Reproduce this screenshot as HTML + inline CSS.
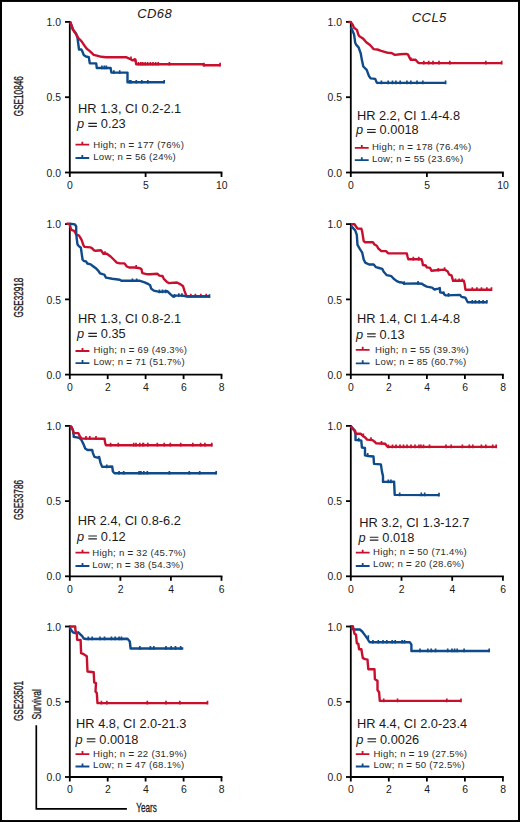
<!DOCTYPE html>
<html><head><meta charset="utf-8"><title>Survival curves</title>
<style>
html,body{margin:0;padding:0;background:#fff;}
body{width:520px;height:822px;overflow:hidden;}
svg text{font-family:"Liberation Sans",sans-serif;fill:#1a1a1a;}
</style></head><body>
<svg width="520" height="822" viewBox="0 0 520 822" style="display:block">
<rect x="0" y="0" width="520" height="822" fill="#fff"/>
<path d="M69.8 21.0V173.4M68.9 172.5H222.4" stroke="#000" stroke-width="1.8" fill="none"/>
<path d="M65.0 21.9H69.8" stroke="#000" stroke-width="1.8"/>
<path d="M65.0 97.2H69.8" stroke="#000" stroke-width="1.8"/>
<path d="M65.0 172.5H69.8" stroke="#000" stroke-width="1.8"/>
<text x="61.0" y="26.0" font-size="10.4" text-anchor="end">1.0</text>
<text x="61.0" y="101.3" font-size="10.4" text-anchor="end">0.5</text>
<text x="61.0" y="176.6" font-size="10.4" text-anchor="end">0.0</text>
<path d="M69.8 172.5V177.0" stroke="#000" stroke-width="1.8"/>
<text x="70.0" y="188.8" font-size="10.4" text-anchor="middle">0</text>
<path d="M145.6 172.5V177.0" stroke="#000" stroke-width="1.8"/>
<text x="145.8" y="188.8" font-size="10.4" text-anchor="middle">5</text>
<path d="M221.5 172.5V177.0" stroke="#000" stroke-width="1.8"/>
<text x="221.7" y="188.8" font-size="10.4" text-anchor="middle">10</text>
<path d="M69.8 22.2 L70.6 22.6 L72.9 29.5 L76.0 33.4 L77.5 38.0 L79.0 49.5 L81.4 49.5 L82.2 51.0 L83.7 54.9 L86.0 56.5 L88.8 57.2 L89.8 63.4 L96.2 63.4 L96.8 68.0 L110.6 68.0 L111.4 72.6 L127.5 72.6 L127.5 82.3 L164.2 82.3" stroke="#0f4a8a" stroke-width="2.4" fill="none" stroke-linejoin="round"/>
<path d="M101.9 65.6V69.3M104.3 65.6V69.3M106.3 65.6V69.3M113.9 70.2V73.9M119.7 70.2V73.9M129.6 79.9V83.6M130.8 79.9V83.6M136.3 79.9V83.6M141.8 79.9V83.6M147.8 79.9V83.6M164.2 79.9V83.6" stroke="#0f4a8a" stroke-width="1.7" fill="none"/>
<path d="M69.8 22.0 L70.4 22.3 L72.9 29.5 L76.0 34.2 L77.5 36.5 L78.3 38.0 L81.4 41.1 L84.5 45.7 L86.8 48.8 L89.8 51.1 L93.7 54.9 L96.8 55.7 L101.4 56.8 L106.0 57.2 L112.2 57.2 L126.0 57.2 L129.8 58.8 L132.2 60.3 L135.5 59.8 L136.2 64.3 L203.0 64.3 L203.5 65.2 L220.1 65.2" stroke="#c8102e" stroke-width="2.4" fill="none" stroke-linejoin="round"/>
<path d="M131.0 56.4V60.1M134.6 57.9V61.6M138.5 61.9V65.6M140.9 61.9V65.6M142.8 61.9V65.6M145.2 61.9V65.6M147.6 61.9V65.6M150.4 61.9V65.6M153.0 61.9V65.6M155.6 61.9V65.6M158.2 61.9V65.6M169.4 61.9V65.6M204.0 62.8V66.5M220.1 62.8V66.5" stroke="#c8102e" stroke-width="1.7" fill="none"/>
<text x="78.1" y="112.9" font-size="12.8">HR 1.3, CI 0.2-2.1</text>
<text x="77.1" y="128.3" font-size="12.8" font-style="italic">p</text>
<path d="M88.3 123.4h8.6M88.3 126.3h8.6" stroke="#222" stroke-width="1.15" fill="none"/>
<text x="100.8" y="128.3" font-size="12.8">0.23</text>
<path d="M75.5 144.7H89.2M82.3 141.7V144.7" stroke="#c8102e" stroke-width="1.8" fill="none"/>
<path d="M75.5 158.0H89.2M82.3 155.0V158.0" stroke="#0f4a8a" stroke-width="1.8" fill="none"/>
<text x="93.2" y="147.8" font-size="9.6" letter-spacing="0.28" style="fill:#2b2b2b">High; n <tspan font-weight="bold">=</tspan> 177 (76%)</text>
<text x="93.2" y="160.2" font-size="9.6" letter-spacing="0.28" style="fill:#2b2b2b">Low; n <tspan font-weight="bold">=</tspan> 56 (24%)</text>
<path d="M350.8 21.0V173.4M349.9 172.5H503.8" stroke="#000" stroke-width="1.8" fill="none"/>
<path d="M346.0 21.9H350.8" stroke="#000" stroke-width="1.8"/>
<path d="M346.0 97.2H350.8" stroke="#000" stroke-width="1.8"/>
<path d="M346.0 172.5H350.8" stroke="#000" stroke-width="1.8"/>
<text x="342.0" y="26.0" font-size="10.4" text-anchor="end">1.0</text>
<text x="342.0" y="101.3" font-size="10.4" text-anchor="end">0.5</text>
<text x="342.0" y="176.6" font-size="10.4" text-anchor="end">0.0</text>
<path d="M350.8 172.5V177.0" stroke="#000" stroke-width="1.8"/>
<text x="351.0" y="188.8" font-size="10.4" text-anchor="middle">0</text>
<path d="M426.9 172.5V177.0" stroke="#000" stroke-width="1.8"/>
<text x="427.1" y="188.8" font-size="10.4" text-anchor="middle">5</text>
<path d="M502.9 172.5V177.0" stroke="#000" stroke-width="1.8"/>
<text x="503.1" y="188.8" font-size="10.4" text-anchor="middle">10</text>
<path d="M350.8 27.0 L351.4 28.2 L354.0 34.2 L355.2 42.7 L356.5 45.2 L358.6 47.4 L360.8 53.7 L362.0 60.6 L363.3 66.5 L366.7 69.9 L368.9 75.9 L370.6 78.4 L375.2 78.9 L376.9 82.9 L445.6 82.9" stroke="#0f4a8a" stroke-width="2.4" fill="none" stroke-linejoin="round"/>
<path d="M381.4 80.5V84.2M388.2 80.5V84.2M392.5 80.5V84.2M395.9 80.5V84.2M400.2 80.5V84.2M406.9 80.5V84.2M410.8 80.5V84.2M417.0 80.5V84.2M422.8 80.5V84.2M445.6 80.5V84.2" stroke="#0f4a8a" stroke-width="1.7" fill="none"/>
<path d="M348.5 22.0 L350.6 21.9 L352.7 24.8 L354.0 27.8 L356.9 29.9 L358.2 34.2 L359.1 35.9 L362.9 38.4 L366.3 42.3 L369.3 44.4 L371.4 46.5 L373.5 49.1 L377.4 49.5 L381.2 50.8 L388.0 52.9 L391.5 53.0 L394.9 54.9 L400.2 54.2 L406.0 53.9 L407.9 54.4 L409.8 58.3 L410.8 59.7 L415.6 59.7 L418.0 62.6 L419.4 63.1 L501.7 63.1" stroke="#c8102e" stroke-width="2.4" fill="none" stroke-linejoin="round"/>
<path d="M410.8 57.3V61.0M423.8 60.7V64.4M428.7 60.7V64.4M433.0 60.7V64.4M439.0 60.7V64.4M449.8 60.7V64.4M485.8 60.7V64.4M501.7 60.7V64.4" stroke="#c8102e" stroke-width="1.7" fill="none"/>
<text x="356.9" y="119.8" font-size="12.8">HR 2.2, CI 1.4-4.8</text>
<text x="355.9" y="134.4" font-size="12.8" font-style="italic">p</text>
<path d="M367.1 129.5h8.6M367.1 132.4h8.6" stroke="#222" stroke-width="1.15" fill="none"/>
<text x="379.6" y="134.4" font-size="12.8">0.0018</text>
<path d="M354.8 147.9H368.7M361.8 144.9V147.9" stroke="#c8102e" stroke-width="1.8" fill="none"/>
<path d="M354.8 160.2H368.7M361.8 157.2V160.2" stroke="#0f4a8a" stroke-width="1.8" fill="none"/>
<text x="371.9" y="150.0" font-size="9.6" letter-spacing="0.28" style="fill:#2b2b2b">High; n <tspan font-weight="bold">=</tspan> 178 (76.4%)</text>
<text x="371.9" y="162.1" font-size="9.6" letter-spacing="0.28" style="fill:#2b2b2b">Low; n <tspan font-weight="bold">=</tspan> 55 (23.6%)</text>
<path d="M69.8 223.2V375.5M68.9 374.6H222.4" stroke="#000" stroke-width="1.8" fill="none"/>
<path d="M65.0 224.1H69.8" stroke="#000" stroke-width="1.8"/>
<path d="M65.0 299.4H69.8" stroke="#000" stroke-width="1.8"/>
<path d="M65.0 374.6H69.8" stroke="#000" stroke-width="1.8"/>
<text x="61.0" y="228.2" font-size="10.4" text-anchor="end">1.0</text>
<text x="61.0" y="303.5" font-size="10.4" text-anchor="end">0.5</text>
<text x="61.0" y="378.7" font-size="10.4" text-anchor="end">0.0</text>
<path d="M69.8 374.6V379.1" stroke="#000" stroke-width="1.8"/>
<text x="70.0" y="390.9" font-size="10.4" text-anchor="middle">0</text>
<path d="M107.7 374.6V379.1" stroke="#000" stroke-width="1.8"/>
<text x="107.9" y="390.9" font-size="10.4" text-anchor="middle">2</text>
<path d="M145.6 374.6V379.1" stroke="#000" stroke-width="1.8"/>
<text x="145.8" y="390.9" font-size="10.4" text-anchor="middle">4</text>
<path d="M183.6 374.6V379.1" stroke="#000" stroke-width="1.8"/>
<text x="183.8" y="390.9" font-size="10.4" text-anchor="middle">6</text>
<path d="M221.5 374.6V379.1" stroke="#000" stroke-width="1.8"/>
<text x="221.7" y="390.9" font-size="10.4" text-anchor="middle">8</text>
<path d="M66.5 223.8 L69.6 223.6 L70.7 228.2 L71.5 229.9 L74.1 230.8 L75.4 232.9 L76.2 234.6 L78.8 235.4 L80.0 237.1 L81.7 240.1 L83.4 245.2 L84.7 246.9 L90.7 247.4 L92.4 248.6 L94.1 250.3 L95.8 250.8 L100.9 250.3 L102.2 252.0 L103.4 253.7 L106.0 253.5 L107.5 254.2 L110.6 256.5 L113.7 259.5 L116.8 262.6 L119.8 263.4 L124.5 263.4 L126.8 266.5 L129.1 267.5 L135.2 267.5 L140.0 268.2 L141.5 269.2 L142.3 273.1 L147.7 274.3 L150.0 274.3 L157.5 273.8 L159.4 275.6 L162.5 276.0 L163.8 278.8 L166.9 281.9 L168.8 283.1 L176.9 282.5 L180.6 284.4 L183.1 286.3 L184.4 290.6 L185.6 293.8 L186.3 296.2 L209.2 296.2" stroke="#c8102e" stroke-width="2.4" fill="none" stroke-linejoin="round"/>
<path d="M105.0 251.3V255.0M136.2 265.1V268.8M190.8 293.8V297.5M195.4 293.8V297.5M200.8 293.8V297.5M206.2 293.8V297.5" stroke="#c8102e" stroke-width="1.7" fill="none"/>
<path d="M69.8 223.8 L74.9 224.4 L76.2 226.5 L76.2 232.5 L76.6 237.6 L77.5 244.4 L78.8 246.1 L80.9 247.8 L81.7 253.7 L82.6 259.7 L83.9 261.0 L86.0 261.4 L87.3 263.5 L90.7 264.4 L92.4 265.7 L95.8 268.2 L97.9 270.3 L100.0 273.3 L102.6 274.2 L104.3 274.6 L106.0 277.6 L112.2 278.8 L119.8 279.8 L121.4 280.8 L130.6 280.8 L140.0 280.8 L144.6 282.3 L148.5 284.2 L150.0 285.0 L151.3 288.8 L153.8 290.6 L159.4 291.9 L167.5 291.3 L170.6 294.4 L173.1 296.5 L175.6 295.6 L182.5 295.6 L187.5 296.6 L209.5 296.6" stroke="#0f4a8a" stroke-width="2.4" fill="none" stroke-linejoin="round"/>
<path d="M132.4 278.4V282.1M136.7 278.4V282.1M159.4 289.5V293.2M162.5 289.5V293.2M165.6 289.5V293.2M174.4 294.1V297.8M178.8 293.2V296.9M181.9 293.2V296.9M209.5 294.2V297.9" stroke="#0f4a8a" stroke-width="1.7" fill="none"/>
<text x="78.1" y="323.3" font-size="12.8">HR 1.3, CI 0.8-2.1</text>
<text x="77.1" y="338.3" font-size="12.8" font-style="italic">p</text>
<path d="M88.3 333.4h8.6M88.3 336.3h8.6" stroke="#222" stroke-width="1.15" fill="none"/>
<text x="100.8" y="338.3" font-size="12.8">0.35</text>
<path d="M75.5 351.0H89.4M82.5 348.0V351.0" stroke="#c8102e" stroke-width="1.8" fill="none"/>
<path d="M75.5 363.1H89.4M82.5 360.1V363.1" stroke="#0f4a8a" stroke-width="1.8" fill="none"/>
<text x="93.4" y="352.9" font-size="9.6" letter-spacing="0.28" style="fill:#2b2b2b">High; n <tspan font-weight="bold">=</tspan> 69 (49.3%)</text>
<text x="93.4" y="365.2" font-size="9.6" letter-spacing="0.28" style="fill:#2b2b2b">Low; n <tspan font-weight="bold">=</tspan> 71 (51.7%)</text>
<path d="M350.8 223.2V375.5M349.9 374.6H503.8" stroke="#000" stroke-width="1.8" fill="none"/>
<path d="M346.0 224.1H350.8" stroke="#000" stroke-width="1.8"/>
<path d="M346.0 299.4H350.8" stroke="#000" stroke-width="1.8"/>
<path d="M346.0 374.6H350.8" stroke="#000" stroke-width="1.8"/>
<text x="342.0" y="228.2" font-size="10.4" text-anchor="end">1.0</text>
<text x="342.0" y="303.5" font-size="10.4" text-anchor="end">0.5</text>
<text x="342.0" y="378.7" font-size="10.4" text-anchor="end">0.0</text>
<path d="M350.8 374.6V379.1" stroke="#000" stroke-width="1.8"/>
<text x="351.0" y="390.9" font-size="10.4" text-anchor="middle">0</text>
<path d="M388.8 374.6V379.1" stroke="#000" stroke-width="1.8"/>
<text x="389.0" y="390.9" font-size="10.4" text-anchor="middle">2</text>
<path d="M426.9 374.6V379.1" stroke="#000" stroke-width="1.8"/>
<text x="427.1" y="390.9" font-size="10.4" text-anchor="middle">4</text>
<path d="M464.9 374.6V379.1" stroke="#000" stroke-width="1.8"/>
<text x="465.1" y="390.9" font-size="10.4" text-anchor="middle">6</text>
<path d="M502.9 374.6V379.1" stroke="#000" stroke-width="1.8"/>
<text x="503.1" y="390.9" font-size="10.4" text-anchor="middle">8</text>
<path d="M350.8 225.7 L355.2 230.3 L356.8 234.9 L357.5 244.9 L359.8 248.8 L362.2 252.6 L363.7 259.5 L365.2 262.6 L369.1 264.5 L373.7 264.5 L376.0 267.2 L379.1 268.0 L382.2 268.8 L383.7 271.8 L386.8 275.2 L391.4 276.2 L393.7 278.8 L396.8 281.1 L399.8 282.3 L402.0 282.5 L404.2 283.6 L418.1 283.5 L422.0 283.8 L423.9 285.2 L426.8 286.6 L432.1 287.6 L434.5 289.5 L438.3 288.6 L439.8 288.1 L440.2 292.4 L442.2 292.9 L443.6 292.4 L444.1 294.3 L445.5 295.3 L446.9 295.4 L460.0 294.9 L461.5 296.9 L465.4 297.7 L467.7 302.3 L486.9 302.3" stroke="#0f4a8a" stroke-width="2.4" fill="none" stroke-linejoin="round"/>
<path d="M404.2 281.2V284.9M418.1 281.1V284.8M448.5 293.0V296.7M472.3 299.9V303.6M475.4 299.9V303.6M479.2 299.9V303.6M483.1 299.9V303.6M486.9 299.9V303.6" stroke="#0f4a8a" stroke-width="1.7" fill="none"/>
<path d="M350.8 224.2 L354.5 224.2 L356.0 226.5 L357.5 228.5 L361.4 228.8 L362.2 231.8 L363.7 241.1 L365.2 242.3 L372.9 242.3 L374.5 244.5 L376.8 245.7 L378.3 248.5 L381.4 251.1 L386.0 251.1 L388.3 253.4 L406.8 253.4 L407.5 256.5 L408.3 259.2 L421.5 259.2 L422.4 262.0 L422.9 265.0 L425.8 265.5 L426.8 267.4 L430.1 267.9 L431.5 270.8 L436.4 270.3 L444.6 269.6 L447.7 271.5 L449.2 274.6 L451.5 275.4 L453.1 280.8 L463.8 280.8 L464.6 283.8 L465.4 289.7 L491.5 289.7" stroke="#c8102e" stroke-width="2.4" fill="none" stroke-linejoin="round"/>
<path d="M413.3 256.8V260.5M418.8 256.8V260.5M438.3 267.9V271.6M444.6 267.2V270.9M455.4 278.4V282.1M459.2 278.4V282.1M462.3 278.4V282.1M472.3 287.3V291.0M476.9 287.3V291.0M481.5 287.3V291.0M486.9 287.3V291.0M491.5 287.3V291.0" stroke="#c8102e" stroke-width="1.7" fill="none"/>
<text x="356.9" y="323.2" font-size="12.8">HR 1.4, CI 1.4-4.8</text>
<text x="355.9" y="338.7" font-size="12.8" font-style="italic">p</text>
<path d="M367.1 333.8h8.6M367.1 336.7h8.6" stroke="#222" stroke-width="1.15" fill="none"/>
<text x="379.6" y="338.7" font-size="12.8">0.13</text>
<path d="M355.8 349.8H369.6M362.7 346.8V349.8" stroke="#c8102e" stroke-width="1.8" fill="none"/>
<path d="M355.8 363.3H369.6M362.7 360.3V363.3" stroke="#0f4a8a" stroke-width="1.8" fill="none"/>
<text x="375.0" y="352.5" font-size="9.6" letter-spacing="0.28" style="fill:#2b2b2b">High; n <tspan font-weight="bold">=</tspan> 55 (39.3%)</text>
<text x="375.0" y="365.0" font-size="9.6" letter-spacing="0.28" style="fill:#2b2b2b">Low; n <tspan font-weight="bold">=</tspan> 85 (60.7%)</text>
<path d="M69.8 425.0V577.2M68.9 576.3H222.4" stroke="#000" stroke-width="1.8" fill="none"/>
<path d="M65.0 425.9H69.8" stroke="#000" stroke-width="1.8"/>
<path d="M65.0 501.1H69.8" stroke="#000" stroke-width="1.8"/>
<path d="M65.0 576.3H69.8" stroke="#000" stroke-width="1.8"/>
<text x="61.0" y="430.0" font-size="10.4" text-anchor="end">1.0</text>
<text x="61.0" y="505.2" font-size="10.4" text-anchor="end">0.5</text>
<text x="61.0" y="580.4" font-size="10.4" text-anchor="end">0.0</text>
<path d="M69.8 576.3V580.8" stroke="#000" stroke-width="1.8"/>
<text x="70.0" y="592.6" font-size="10.4" text-anchor="middle">0</text>
<path d="M120.4 576.3V580.8" stroke="#000" stroke-width="1.8"/>
<text x="120.6" y="592.6" font-size="10.4" text-anchor="middle">2</text>
<path d="M170.9 576.3V580.8" stroke="#000" stroke-width="1.8"/>
<text x="171.1" y="592.6" font-size="10.4" text-anchor="middle">4</text>
<path d="M221.5 576.3V580.8" stroke="#000" stroke-width="1.8"/>
<text x="221.7" y="592.6" font-size="10.4" text-anchor="middle">6</text>
<path d="M69.8 426.0 L71.4 426.9 L72.9 430.0 L73.7 435.4 L73.7 436.9 L79.1 437.7 L81.4 440.0 L83.7 444.6 L85.2 448.5 L87.5 450.0 L92.2 450.0 L92.9 453.1 L94.5 456.9 L97.5 457.7 L99.1 456.9 L100.6 463.1 L102.2 466.9 L112.2 466.5 L112.9 471.5 L114.5 473.3 L216.2 473.3" stroke="#0f4a8a" stroke-width="2.4" fill="none" stroke-linejoin="round"/>
<path d="M106.8 464.5V468.2M119.1 470.9V474.6M123.7 470.9V474.6M139.1 470.9V474.6M140.9 470.9V474.6M143.8 470.9V474.6M147.3 470.9V474.6M169.4 470.9V474.6M189.3 470.9V474.6M199.7 470.9V474.6M216.2 470.9V474.6" stroke="#0f4a8a" stroke-width="1.7" fill="none"/>
<path d="M69.8 426.0 L71.4 426.9 L72.9 430.0 L73.7 433.1 L78.3 433.1 L79.8 436.2 L81.4 438.5 L104.5 438.8 L105.2 443.1 L106.0 445.2 L212.3 445.2" stroke="#c8102e" stroke-width="2.4" fill="none" stroke-linejoin="round"/>
<path d="M86.0 436.1V439.8M89.8 436.1V439.8M96.0 436.1V439.8M110.6 442.8V446.5M118.3 442.8V446.5M133.7 442.8V446.5M136.0 442.8V446.5M139.8 442.8V446.5M142.9 442.8V446.5M143.5 442.8V446.5M147.8 442.8V446.5M157.3 442.8V446.5M164.2 442.8V446.5M170.3 442.8V446.5M180.7 442.8V446.5M192.8 442.8V446.5M200.6 442.8V446.5M204.9 442.8V446.5M211.8 442.8V446.5" stroke="#c8102e" stroke-width="1.7" fill="none"/>
<text x="77.7" y="525.0" font-size="12.8">HR 2.4, CI 0.8-6.2</text>
<text x="77.1" y="540.9" font-size="12.8" font-style="italic">p</text>
<path d="M88.3 536.0h8.6M88.3 538.9h8.6" stroke="#222" stroke-width="1.15" fill="none"/>
<text x="100.8" y="540.9" font-size="12.8">0.12</text>
<path d="M75.5 552.7H89.4M82.5 549.7V552.7" stroke="#c8102e" stroke-width="1.8" fill="none"/>
<path d="M75.5 566.0H89.4M82.5 563.0V566.0" stroke="#0f4a8a" stroke-width="1.8" fill="none"/>
<text x="92.2" y="556.2" font-size="9.6" letter-spacing="0.28" style="fill:#2b2b2b">High; n <tspan font-weight="bold">=</tspan> 32 (45.7%)</text>
<text x="92.2" y="568.3" font-size="9.6" letter-spacing="0.28" style="fill:#2b2b2b">Low; n <tspan font-weight="bold">=</tspan> 38 (54.3%)</text>
<path d="M350.8 425.0V577.2M349.9 576.3H503.8" stroke="#000" stroke-width="1.8" fill="none"/>
<path d="M346.0 425.9H350.8" stroke="#000" stroke-width="1.8"/>
<path d="M346.0 501.1H350.8" stroke="#000" stroke-width="1.8"/>
<path d="M346.0 576.3H350.8" stroke="#000" stroke-width="1.8"/>
<text x="342.0" y="430.0" font-size="10.4" text-anchor="end">1.0</text>
<text x="342.0" y="505.2" font-size="10.4" text-anchor="end">0.5</text>
<text x="342.0" y="580.4" font-size="10.4" text-anchor="end">0.0</text>
<path d="M350.8 576.3V580.8" stroke="#000" stroke-width="1.8"/>
<text x="351.0" y="592.6" font-size="10.4" text-anchor="middle">0</text>
<path d="M401.5 576.3V580.8" stroke="#000" stroke-width="1.8"/>
<text x="401.7" y="592.6" font-size="10.4" text-anchor="middle">2</text>
<path d="M452.2 576.3V580.8" stroke="#000" stroke-width="1.8"/>
<text x="452.4" y="592.6" font-size="10.4" text-anchor="middle">4</text>
<path d="M502.9 576.3V580.8" stroke="#000" stroke-width="1.8"/>
<text x="503.1" y="592.6" font-size="10.4" text-anchor="middle">6</text>
<path d="M350.8 426.1 L352.5 428.0 L354.5 430.6 L355.5 433.8 L355.5 440.1 L359.2 440.1 L361.3 440.6 L361.9 447.5 L365.0 448.0 L365.0 455.4 L368.2 456.0 L373.5 456.5 L374.0 463.9 L380.9 464.4 L382.0 471.9 L383.0 476.1 L383.0 481.9 L394.1 481.6 L394.7 494.9 L439.0 495.1" stroke="#0f4a8a" stroke-width="2.4" fill="none" stroke-linejoin="round"/>
<path d="M358.7 437.7V441.4M367.7 453.0V456.7M388.3 479.5V483.2M390.9 479.5V483.2M399.7 492.5V496.2M421.3 492.5V496.2M424.7 492.5V496.2M439.0 492.7V496.4" stroke="#0f4a8a" stroke-width="1.7" fill="none"/>
<path d="M350.8 426.1 L352.3 428.5 L355.0 430.6 L356.0 433.8 L360.8 433.8 L362.9 435.9 L364.5 436.9 L367.2 439.6 L372.5 440.1 L374.6 441.7 L376.2 443.3 L385.2 443.8 L386.7 445.9 L387.8 446.9 L497.0 446.9" stroke="#c8102e" stroke-width="2.4" fill="none" stroke-linejoin="round"/>
<path d="M363.3 433.5V437.2M371.0 437.2V440.9M381.5 440.9V444.6M388.4 444.5V448.2M392.5 444.5V448.2M396.0 444.5V448.2M400.0 444.5V448.2M403.5 444.5V448.2M407.0 444.5V448.2M411.0 444.5V448.2M415.0 444.5V448.2M419.0 444.5V448.2M420.9 444.5V448.2M423.5 444.5V448.2M429.5 444.5V448.2M446.0 444.5V448.2M451.2 444.5V448.2M462.4 444.5V448.2M469.3 444.5V448.2M472.8 444.5V448.2M481.4 444.5V448.2M485.8 444.5V448.2M492.7 444.5V448.2M496.2 444.5V448.2" stroke="#c8102e" stroke-width="1.7" fill="none"/>
<text x="359.2" y="526.7" font-size="12.8">HR 3.2, CI 1.3-12.7</text>
<text x="358.6" y="542.1" font-size="12.8" font-style="italic">p</text>
<path d="M369.8 537.2h8.6M369.8 540.1h8.6" stroke="#222" stroke-width="1.15" fill="none"/>
<text x="382.3" y="542.1" font-size="12.8">0.018</text>
<path d="M355.8 552.7H369.6M362.7 549.7V552.7" stroke="#c8102e" stroke-width="1.8" fill="none"/>
<path d="M355.8 566.0H369.6M362.7 563.0V566.0" stroke="#0f4a8a" stroke-width="1.8" fill="none"/>
<text x="373.1" y="554.8" font-size="9.6" letter-spacing="0.28" style="fill:#2b2b2b">High; n <tspan font-weight="bold">=</tspan> 50 (71.4%)</text>
<text x="373.1" y="567.3" font-size="9.6" letter-spacing="0.28" style="fill:#2b2b2b">Low; n <tspan font-weight="bold">=</tspan> 20 (28.6%)</text>
<path d="M69.8 625.6V777.9M68.9 777.0H222.4" stroke="#000" stroke-width="1.8" fill="none"/>
<path d="M65.0 626.5H69.8" stroke="#000" stroke-width="1.8"/>
<path d="M65.0 701.8H69.8" stroke="#000" stroke-width="1.8"/>
<path d="M65.0 777.0H69.8" stroke="#000" stroke-width="1.8"/>
<text x="61.0" y="630.6" font-size="10.4" text-anchor="end">1.0</text>
<text x="61.0" y="705.9" font-size="10.4" text-anchor="end">0.5</text>
<text x="61.0" y="781.1" font-size="10.4" text-anchor="end">0.0</text>
<path d="M69.8 777.0V781.5" stroke="#000" stroke-width="1.8"/>
<text x="70.0" y="793.3" font-size="10.4" text-anchor="middle">0</text>
<path d="M107.7 777.0V781.5" stroke="#000" stroke-width="1.8"/>
<text x="107.9" y="793.3" font-size="10.4" text-anchor="middle">2</text>
<path d="M145.6 777.0V781.5" stroke="#000" stroke-width="1.8"/>
<text x="145.8" y="793.3" font-size="10.4" text-anchor="middle">4</text>
<path d="M183.6 777.0V781.5" stroke="#000" stroke-width="1.8"/>
<text x="183.8" y="793.3" font-size="10.4" text-anchor="middle">6</text>
<path d="M221.5 777.0V781.5" stroke="#000" stroke-width="1.8"/>
<text x="221.7" y="793.3" font-size="10.4" text-anchor="middle">8</text>
<path d="M69.8 626.5 L70.6 629.2 L72.9 632.3 L75.2 633.1 L78.3 632.3 L80.6 634.6 L82.2 636.2 L83.7 638.5 L86.0 639.0 L127.5 638.8 L129.8 641.5 L130.6 648.5 L183.3 648.5" stroke="#0f4a8a" stroke-width="2.4" fill="none" stroke-linejoin="round"/>
<path d="M88.3 636.6V640.3M92.2 636.6V640.3M100.0 636.6V640.3M104.5 636.6V640.3M111.4 636.6V640.3M115.2 636.6V640.3M119.1 636.6V640.3M121.4 636.6V640.3M139.8 646.1V649.8M150.4 646.1V649.8M153.8 646.1V649.8M166.0 646.1V649.8M171.2 646.1V649.8M175.5 646.1V649.8M180.7 646.1V649.8" stroke="#0f4a8a" stroke-width="1.7" fill="none"/>
<path d="M69.8 626.5 L75.2 626.5 L75.5 630.8 L76.8 633.1 L77.1 639.7 L80.6 640.0 L81.1 653.1 L83.7 654.2 L86.8 656.2 L87.5 671.5 L93.7 672.3 L94.2 682.3 L96.0 683.1 L95.5 691.5 L96.8 693.1 L97.5 703.1 L207.8 703.1" stroke="#c8102e" stroke-width="2.4" fill="none" stroke-linejoin="round"/>
<path d="M101.4 700.7V704.4M106.8 700.7V704.4M147.3 700.7V704.4M166.0 700.7V704.4M179.8 700.7V704.4M207.5 700.7V704.4" stroke="#c8102e" stroke-width="1.7" fill="none"/>
<text x="76.1" y="727.9" font-size="12.8">HR 4.8, CI 2.0-21.3</text>
<text x="75.6" y="743.7" font-size="12.8" font-style="italic">p</text>
<path d="M86.8 738.8h8.6M86.8 741.7h8.6" stroke="#222" stroke-width="1.15" fill="none"/>
<text x="99.3" y="743.7" font-size="12.8">0.0018</text>
<path d="M75.5 754.1H89.4M82.5 751.1V754.1" stroke="#c8102e" stroke-width="1.8" fill="none"/>
<path d="M75.5 766.5H89.4M82.5 763.5V766.5" stroke="#0f4a8a" stroke-width="1.8" fill="none"/>
<text x="93.1" y="756.7" font-size="9.6" letter-spacing="0.28" style="fill:#2b2b2b">High; n <tspan font-weight="bold">=</tspan> 22 (31.9%)</text>
<text x="93.1" y="768.3" font-size="9.6" letter-spacing="0.28" style="fill:#2b2b2b">Low; n <tspan font-weight="bold">=</tspan> 47 (68.1%)</text>
<path d="M350.8 625.6V777.9M349.9 777.0H503.8" stroke="#000" stroke-width="1.8" fill="none"/>
<path d="M346.0 626.5H350.8" stroke="#000" stroke-width="1.8"/>
<path d="M346.0 701.8H350.8" stroke="#000" stroke-width="1.8"/>
<path d="M346.0 777.0H350.8" stroke="#000" stroke-width="1.8"/>
<text x="342.0" y="630.6" font-size="10.4" text-anchor="end">1.0</text>
<text x="342.0" y="705.9" font-size="10.4" text-anchor="end">0.5</text>
<text x="342.0" y="781.1" font-size="10.4" text-anchor="end">0.0</text>
<path d="M350.8 777.0V781.5" stroke="#000" stroke-width="1.8"/>
<text x="351.0" y="793.3" font-size="10.4" text-anchor="middle">0</text>
<path d="M388.8 777.0V781.5" stroke="#000" stroke-width="1.8"/>
<text x="389.0" y="793.3" font-size="10.4" text-anchor="middle">2</text>
<path d="M426.9 777.0V781.5" stroke="#000" stroke-width="1.8"/>
<text x="427.1" y="793.3" font-size="10.4" text-anchor="middle">4</text>
<path d="M464.9 777.0V781.5" stroke="#000" stroke-width="1.8"/>
<text x="465.1" y="793.3" font-size="10.4" text-anchor="middle">6</text>
<path d="M502.9 777.0V781.5" stroke="#000" stroke-width="1.8"/>
<text x="503.1" y="793.3" font-size="10.4" text-anchor="middle">8</text>
<path d="M350.8 627.7 L353.7 629.5 L359.8 629.5 L362.2 631.5 L364.5 634.6 L366.8 637.7 L369.1 641.5 L369.8 642.3 L409.8 642.2 L411.4 644.6 L411.4 651.0 L489.2 651.0" stroke="#0f4a8a" stroke-width="2.4" fill="none" stroke-linejoin="round"/>
<path d="M368.3 635.3V639.0M372.9 639.9V643.6M378.3 639.9V643.6M383.0 639.9V643.6M386.8 639.9V643.6M392.2 639.9V643.6M395.2 639.9V643.6M402.1 639.9V643.6M404.5 639.9V643.6M420.0 648.6V652.3M427.8 648.6V652.3M431.2 648.6V652.3M435.6 648.6V652.3M447.7 648.6V652.3M452.0 648.6V652.3M454.6 648.6V652.3M457.2 648.6V652.3M464.1 648.6V652.3M489.2 648.6V652.3" stroke="#0f4a8a" stroke-width="1.7" fill="none"/>
<path d="M350.8 626.2 L352.9 626.2 L353.7 630.0 L354.5 633.8 L356.0 634.6 L356.8 643.1 L358.3 643.8 L359.1 649.2 L361.4 649.2 L362.2 654.6 L362.9 658.2 L365.2 659.2 L367.5 659.7 L368.3 669.2 L374.5 669.2 L374.9 679.2 L377.5 680.8 L377.5 690.0 L379.1 692.3 L379.8 700.9 L461.0 700.9" stroke="#c8102e" stroke-width="2.4" fill="none" stroke-linejoin="round"/>
<path d="M383.7 698.5V702.2M397.5 698.5V702.2M446.8 698.5V702.2M461.0 698.5V702.2" stroke="#c8102e" stroke-width="1.7" fill="none"/>
<text x="356.9" y="727.9" font-size="12.8">HR 4.4, CI 2.0-23.4</text>
<text x="356.3" y="743.7" font-size="12.8" font-style="italic">p</text>
<path d="M367.5 738.8h8.6M367.5 741.7h8.6" stroke="#222" stroke-width="1.15" fill="none"/>
<text x="380.0" y="743.7" font-size="12.8">0.0026</text>
<path d="M355.8 754.1H369.4M362.6 751.1V754.1" stroke="#c8102e" stroke-width="1.8" fill="none"/>
<path d="M355.8 766.5H369.4M362.6 763.5V766.5" stroke="#0f4a8a" stroke-width="1.8" fill="none"/>
<text x="373.4" y="756.7" font-size="9.6" letter-spacing="0.28" style="fill:#2b2b2b">High; n <tspan font-weight="bold">=</tspan> 19 (27.5%)</text>
<text x="373.4" y="768.3" font-size="9.6" letter-spacing="0.28" style="fill:#2b2b2b">Low; n <tspan font-weight="bold">=</tspan> 50 (72.5%)</text>
<text x="154.7" y="17.7" font-size="13" letter-spacing="0.45" font-style="italic" text-anchor="middle">CD68</text>
<text x="429.3" y="21.9" font-size="13" letter-spacing="0.45" font-style="italic" text-anchor="middle">CCL5</text>
<text transform="translate(23.2 96.2) rotate(-90) scale(0.63 1)" font-size="13" text-anchor="middle" stroke="#1a1a1a" stroke-width="0.35">GSE10846</text>
<text transform="translate(23.2 297.6) rotate(-90) scale(0.63 1)" font-size="13" text-anchor="middle" stroke="#1a1a1a" stroke-width="0.35">GSE32918</text>
<text transform="translate(23.2 500.0) rotate(-90) scale(0.63 1)" font-size="13" text-anchor="middle" stroke="#1a1a1a" stroke-width="0.35">GSE53786</text>
<text transform="translate(23.2 701.0) rotate(-90) scale(0.63 1)" font-size="13" text-anchor="middle" stroke="#1a1a1a" stroke-width="0.35">GSE23501</text>
<text transform="translate(41 704.3) rotate(-90) scale(0.66 1)" font-size="13" text-anchor="middle" stroke="#1a1a1a" stroke-width="0.3">Survival</text>
<path d="M36.3 725.2V808.8H126.9" stroke="#000" stroke-width="1.7" fill="none"/>
<text transform="translate(136.2 811.5) scale(0.63 1)" font-size="13" stroke="#1a1a1a" stroke-width="0.3">Years</text>
<rect x="1" y="0.95" width="518" height="820.1" fill="none" stroke="#000" stroke-width="2"/>
</svg>
</body></html>
